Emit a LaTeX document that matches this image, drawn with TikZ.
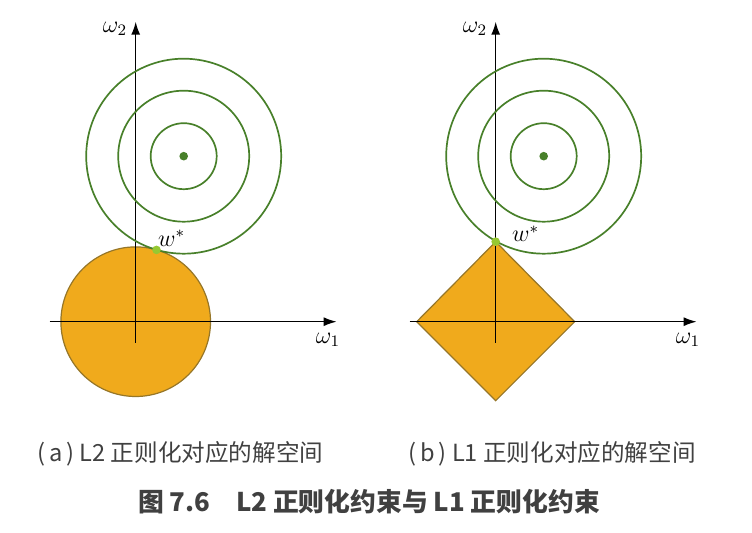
\documentclass[tikz,border=0pt]{standalone}
\usepackage{xcolor}
\usepackage{amsmath}
\usepackage{fontspec}
\newfontfamily\cjk{Noto Sans CJK SC}
\usetikzlibrary{arrows.meta}

\definecolor{regfill}{RGB}{240,170,28}
\definecolor{regedge}{RGB}{150,118,40}
\definecolor{lossgreen}{RGB}{72,128,42}
\definecolor{wdot}{RGB}{150,200,50}

\begin{document}
\begin{tikzpicture}[x=0.5pt,y=-0.5pt,
	axis/.style={line width=0.75pt, -{Latex[length=6.5pt,width=4.5pt]}},
	contour/.style={lossgreen, line width=0.85pt},
	region/.style={fill=regfill, draw=regedge, line width=0.6pt},
	axlabel/.style={font=\fontsize{12}{14}\selectfont, inner sep=0pt},
	subcap/.style={font=\cjk\fontsize{11.8}{14}\selectfont, text=black!75, inner sep=0pt},
	maincap/.style={font=\cjk\bfseries\fontsize{12.9}{15}\selectfont, text=black!75, inner sep=0pt}
	]
	\useasboundingbox (0,0) rectangle (752,533);
	
	% (a) L2
	\begin{scope}[shift={(135.7,321.7)}]
		\coordinate (oa) at (0,0);
		\coordinate (xas) at (-86,0);
		\coordinate (xae) at (201,0);
		\coordinate (yas) at (0,21.3);
		\coordinate (yae) at (0,-300);
		\coordinate (ca) at (48,-165.5);
		\fill[region] (oa) circle[radius=74.8];
		\draw[axis] (xas) -- (xae);
		\draw[axis] (yas) -- (yae);
		\foreach \r in {33,65.5,97.5}
			\draw[contour] (ca) circle[radius=\r];
		\fill[lossgreen] (ca) circle[radius=4.3];
		\fill[wdot] (20.8,-71.8) circle[radius=4.3] coordinate (wa);
		\node[axlabel] (wstara) at (36,-83.4) {$w^*$};
		\node[axlabel] (w2a) at (-20.7,-292.7) {$\omega_2$};
		\node[axlabel] (w1a) at (192.3,18.3) {$\omega_1$};
	\end{scope}
	
	% (b) L1
	\begin{scope}[shift={(495.7,321.7)}]
		\coordinate (ob) at (0,0);
		\coordinate (xbs) at (-86,0);
		\coordinate (xbe) at (201,0);
		\coordinate (ybs) at (0,21.3);
		\coordinate (ybe) at (0,-300);
		\coordinate (cb) at (48,-165.5);
		\fill[region] (-79,0) -- (0,-80) -- (79,0) -- (0,79) -- cycle;
		\draw[axis] (xbs) -- (xbe);
		\draw[axis] (ybs) -- (ybe);
		\foreach \r in {33,65.5,97.5}
			\draw[contour] (cb) circle[radius=\r];
		\fill[lossgreen] (cb) circle[radius=4.3];
		\fill[wdot] (0,-80) circle[radius=4.3] coordinate (wb);
		\node[axlabel] (wstarb) at (30,-88) {$w^*$};
		\node[axlabel] (w2b) at (-20.7,-292.7) {$\omega_2$};
		\node[axlabel] (w1b) at (192.3,18.3) {$\omega_1$};
	\end{scope}
	
	% captions
	\node[subcap, anchor=west] (capa) at (37,454) {(\,a\,) L2 正则化对应的解空间};
	\node[subcap, anchor=west] (capb) at (408,454) {(\,b\,) L1 正则化对应的解空间};
	\node[maincap] (cap) at (369,502) {图 7.6\quad L2 正则化约束与 L1 正则化约束};
\end{tikzpicture}
\end{document}
